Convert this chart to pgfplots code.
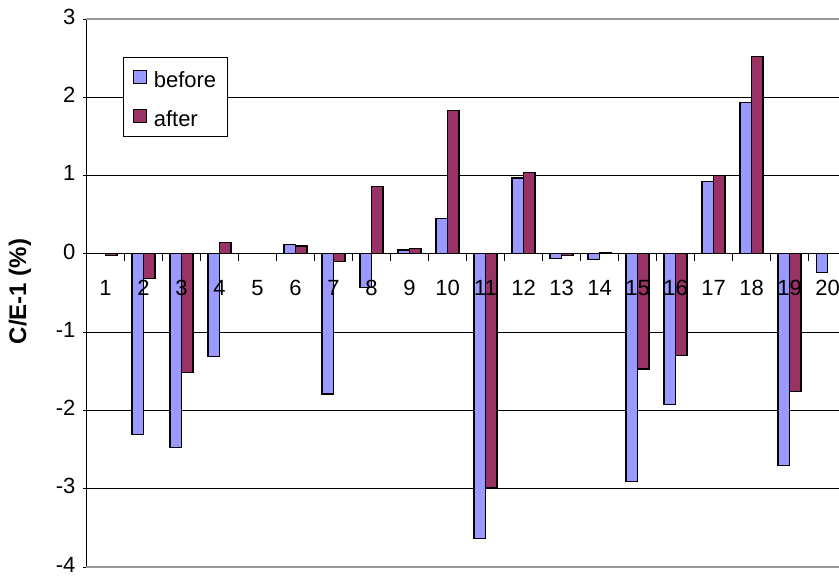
\documentclass[border=0pt]{standalone}
\usepackage{fontspec}
\setmainfont{Liberation Sans}
\usepackage{pgfplots}
\pgfplotsset{compat=1.18}
\definecolor{cbefore}{HTML}{9999FF}
\definecolor{cafter}{HTML}{993366}
\newcommand\yl[1]{\raisebox{5bp}{#1}\hspace*{4bp}}
\newcommand\xl[1]{\raisebox{-22.5bp}[\height][\depth]{#1}}
\pgfplotsset{
  common/.style={
    scale only axis, width=752.5bp,
    xmin=0.5, xmax=20.30,
    clip=false,
    ticklabel style={font=\fontsize{22bp}{26bp}\selectfont},
    tick style={black, line width=1bp},
    tick align=outside, major tick length=7bp,
  }
}
\begin{document}
\begin{tikzpicture}
% main axis: grid, bars, y axis, legend
\begin{axis}[
  common, height=548bp, ymin=-4, ymax=3,
  axis x line=none, axis y line=left,
  axis line style={-, black, line width=1.2bp},
  ybar=0pt, bar width=11.5bp,
  ytick={-4,-3,-2,-1,0,1,2,3}, yticklabels={\yl{-4},\yl{-3},\yl{-2},\yl{-1},\yl{0},\yl{1},\yl{2},\yl{3}},
  ymajorgrids, grid style={black, line width=0.9bp},
  legend style={at={(rel axis cs:0.0489,0.9312)}, anchor=north west, draw=black, line width=1bp, fill=white,
    inner xsep=9bp, inner ysep=10bp, row sep=19bp, column sep=7bp,
    font=\fontsize{22bp}{26bp}\selectfont,
    nodes={inner sep=0pt, text height=19.9bp, text depth=0.2bp}},
  legend cell align=left,
  legend image code/.code={\draw[#1, line width=1bp] (0bp,-6.5bp) rectangle (13bp,6.5bp);},
]
\addplot[fill=cbefore, draw=black, line width=1.2bp] coordinates {
(1,0) (2,-2.31) (3,-2.47) (4,-1.31) (5,0) (6,0.12) (7,-1.79) (8,-0.43) (9,0.05) (10,0.45)
(11,-3.64) (12,0.97) (13,-0.055) (14,-0.075) (15,-2.91) (16,-1.92) (17,0.92) (18,1.93) (19,-2.70) (20,-0.24)};
\addlegendentry{before\hspace*{2bp}}
\addplot[fill=cafter, draw=black, line width=1.2bp] coordinates {
(1,-0.02) (2,-0.31) (3,-1.52) (4,0.15) (5,0) (6,0.10) (7,-0.095) (8,0.86) (9,0.07) (10,1.835)
(11,-2.98) (12,1.04) (13,-0.02) (14,0.02) (15,-1.47) (16,-1.30) (17,1.00) (18,2.525) (19,-1.76) (20,0)};
\addlegendentry{after}
\draw[black, line width=1.2bp] (axis cs:0.5,0) -- (axis cs:20.30,0);
\draw[gray!80, line width=1.3bp] (rel axis cs:0,1) -- (rel axis cs:1,1);
\draw[gray!80, line width=1.3bp] (rel axis cs:0,0) -- (rel axis cs:1,0);
\node[rotate=90, anchor=center, font=\fontsize{24bp}{28bp}\selectfont\bfseries] at (rel axis cs:-0.0884,0.5027) {C/E-1 (\%)};
\end{axis}
% category axis: a box axis whose bottom edge lies on the zero line
\begin{axis}[
  common, height=100bp, ymin=0, ymax=1,
  at={(0bp,312.5bp)}, anchor=south west,
  axis line style={draw=none},
  hide y axis,
  xtick pos=left,
  xtick={1.5,2.5,3.5,4.5,5.5,6.5,7.5,8.5,9.5,10.5,11.5,12.5,13.5,14.5,15.5,16.5,17.5,18.5,19.5},
  xticklabels={},
  extra x ticks={1,2,3,4,5,6,7,8,9,10,11,12,13,14,15,16,17,18,19,20},
  extra x tick labels={\xl{1},\xl{2},\xl{3},\xl{4},\xl{5},\xl{6},\xl{7},\xl{8},\xl{9},\xl{10},\xl{11},\xl{12},\xl{13},\xl{14},\xl{15},\xl{16},\xl{17},\xl{18},\xl{19},\xl{20}},
  extra x tick style={major tick length=0pt},
]
\end{axis}
\pgfresetboundingbox
\path[use as bounding box] (-86.5bp,-10bp) rectangle (752.5bp,567bp);
\end{tikzpicture}
\end{document}
